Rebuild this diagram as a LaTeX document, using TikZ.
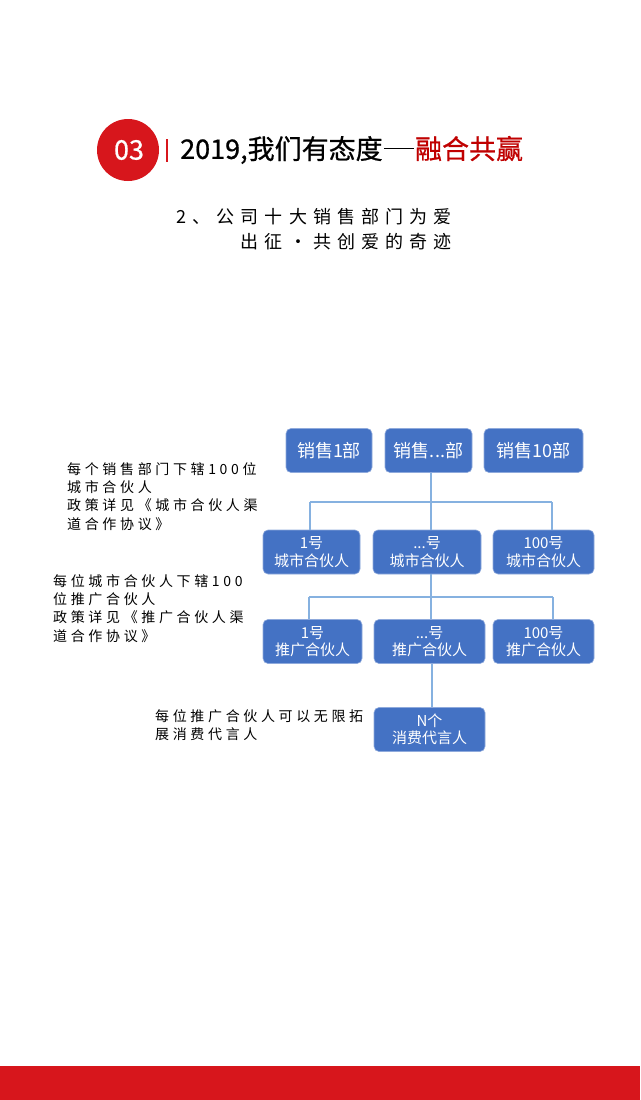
\documentclass[tikz,border=0pt]{standalone}
\usepackage{fontspec}
\setmainfont{Noto Sans CJK SC}
\newfontfamily\wideA[LetterSpace=34]{Noto Sans CJK SC}
\newfontfamily\wideB[LetterSpace=26]{Noto Sans CJK SC}
\newfontfamily\heavy[FakeBold=0.7]{Noto Sans CJK SC}
\definecolor{badgered}{HTML}{D7161C}
\definecolor{titlered}{HTML}{C00000}
\definecolor{boxblue}{HTML}{4472C4}
\definecolor{linkblue}{HTML}{86B1E0}
\newcommand\longdash{\hspace{0.05em}\rule[0.36em]{1.1em}{1.4pt}\hspace{0.05em}}
\tikzset{
  unit/.style={fill=boxblue, draw=boxblue!60!white, line width=0.6pt, rounded corners=5pt,
    text=white, align=center, inner sep=0pt, minimum height=44pt},
  note/.style={anchor=north west, align=left, inner sep=0pt, font=\wideB\fontsize{14}{18.4}\selectfont},
  link/.style={draw=linkblue, line width=1.4pt}
}
\begin{document}
\begin{tikzpicture}[x=1pt,y=-1pt]
  \useasboundingbox (0,0) rectangle (640,1100);
  \fill [white] (0,0) rectangle (640,1100);
  \fill [badgered] (0,1066) rectangle (640,1100);
  \fill [badgered] (128,150) circle (31);
  \node [text=white, font=\heavy\fontsize{27}{30}\selectfont] (num) at (129,150) {03};
  \draw [badgered, line width=1.6pt] (167,139) -- (167,162);
  \node [anchor=west, inner sep=0pt, font=\heavy\fontsize{27}{30}\selectfont] (title) at (180,150)
    {2019,我们有态度\longdash\textcolor{titlered}{融合共赢}};
  \node [anchor=north east, align=right, inner sep=0pt, font=\wideA\fontsize{18}{25}\selectfont] (sub) at (452,208)
    {2、公司十大销售部门为爱\\出征·共创爱的奇迹};

  \node [unit, minimum width=86pt, font=\fontsize{18}{20}\selectfont] (d1) at (329,450.5) {销售1部};
  \node [unit, minimum width=87pt, font=\fontsize{18}{20}\selectfont] (d2) at (428.5,450.5) {销售...部};
  \node [unit, minimum width=99pt, font=\fontsize{18}{20}\selectfont] (d3) at (533.5,450.5) {销售10部};

  \node [unit, minimum width=97pt, font=\fontsize{15}{17.5}\selectfont] (c1) at (311.5,552) {1号\\城市合伙人};
  \node [unit, minimum width=108pt, font=\fontsize{15}{17.5}\selectfont] (c2) at (427,552) {...号\\城市合伙人};
  \node [unit, minimum width=101pt, font=\fontsize{15}{17.5}\selectfont] (c3) at (543.5,552) {100号\\城市合伙人};

  \node [unit, minimum width=99pt, font=\fontsize{15}{17.5}\selectfont] (p1) at (312.5,641.5) {1号\\推广合伙人};
  \node [unit, minimum width=111pt, font=\fontsize{15}{17.5}\selectfont] (p2) at (429.5,641.5) {...号\\推广合伙人};
  \node [unit, minimum width=101pt, font=\fontsize{15}{17.5}\selectfont] (p3) at (543.5,641.5) {100号\\推广合伙人};

  \node [unit, minimum width=111pt, font=\fontsize{15}{17.5}\selectfont] (n) at (429.5,729.5) {N个\\消费代言人};

  \coordinate (j1) at (431,502);
  \coordinate (j1l) at (310,502);
  \coordinate (j1r) at (552,502);
  \coordinate (j2) at (431,597);
  \coordinate (j2l) at (309,597);
  \coordinate (j2r) at (553,597);
  \draw [link] (d2.south -| j1) -- (j1);
  \draw [link] (j1l) -- (j1r);
  \draw [link] (j1l) -- (c1.north -| j1l);
  \draw [link] (j1) -- (c2.north -| j1);
  \draw [link] (j1r) -- (c3.north -| j1r);
  \draw [link] (c2.south -| j2) -- (j2);
  \draw [link] (j2l) -- (j2r);
  \draw [link] (j2l) -- (p1.north -| j2l);
  \draw [link] (j2) -- (p2.north -| j2);
  \draw [link] (j2r) -- (p3.north -| j2r);
  \draw [link] (p2.south -| 432,0) -- (n.north -| 432,0);

  \node [note] (t1) at (67,462) {每个销售部门下辖100位\\城市合伙人\\政策详见《城市合伙人渠\\道合作协议》};
  \node [note] (t2) at (53,574) {每位城市合伙人下辖100\\位推广合伙人\\政策详见《推广合伙人渠\\道合作协议》};
  \node [note] (t3) at (155,709) {每位推广合伙人可以无限拓\\展消费代言人};
\end{tikzpicture}
\end{document}
